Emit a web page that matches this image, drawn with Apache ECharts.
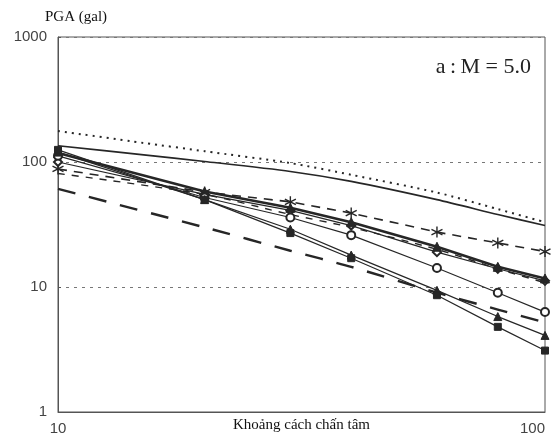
<!DOCTYPE html>
<html>
<head>
<meta charset="utf-8">
<script src="https://cdn.jsdelivr.net/npm/echarts@6/dist/echarts.min.js"></script>
<style>
  html, body { margin: 0; padding: 0; background: #fff; }
  #main { width: 552px; height: 440px; }
</style>
</head>
<body>
<div id="main"></div>
<script>
// distances (km) and PGA values (gal)
var distances = [10, 20, 30, 40, 60, 80, 100];
var distFine = [10, 15, 20, 30, 40, 60, 80, 100];

var dottedCurve = [177, 142, 122, 98, 79, 57, 42, 33];
var solidCurve = [135, 114, 101, 84, 70, 50, 38, 31];
var starValues = [88, 57.5, 48, 39, 27.5, 22.5, 19.2];
var dashValues = [81, 55, 38, 30, 20, 14, 10.8];
var diamondValues = [100, 55, 41, 31, 19, 14, 11.2];
var triHeavyValues = [118, 58, 43, 33, 21, 14.5, 11.7];
var circleValues = [112, 52, 36, 26, 14.2, 9, 6.3];
var longDashValues = [61, 30, 19.5, 14.5, 9, 6.6, 5.2];
var triValues = [120, 50, 29, 18, 9.4, 5.8, 4.1];
var squareValues = [125, 50, 27, 17, 8.6, 4.8, 3.1];

var yTicks = [1, 10, 100, 1000];

var INK = '#262626';
var asterisk = 'path://M0,-5L0,5M-4.33,-2.5L4.33,2.5M-4.33,2.5L4.33,-2.5';

function pairs(xs, ys) {
	var out = [];
	for (var i = 0; i < xs.length; i++) out.push([xs[i], ys[i]]);
	return out;
}

function mkLine(name, xs, ys, width, dash, symbol, size) {
	return {
		name: name,
		type: 'line',
		data: pairs(xs, ys),
		symbol: symbol || 'none',
		symbolSize: size || 7,
		showSymbol: !!symbol,
		smooth: symbol ? false : 0.25,
		clip: false,
		z: 3,
		lineStyle: { color: INK, width: width, type: dash || 'solid', cap: 'butt' },
		itemStyle: { color: INK, borderColor: INK, borderWidth: symbol === asterisk ? 1.4 : 1 },
		emphasis: { disabled: true }
	};
}

var mainChart = echarts.init(document.getElementById('main'));

var chartOpt = {
	animation: false,
	backgroundColor: '#fff',
	grid: {
		left: 58, right: 7, top: 37, bottom: 28,
		outerBoundsMode: 'none',
		containLabel: false,
		show: true, borderColor: '#555', borderWidth: 1
	},
	xAxis: {
		type: 'log',
		logBase: 10,
		min: 10,
		max: 100,
		name: 'Khoảng cách chấn tâm',
		nameLocation: 'middle',
		nameGap: 6,
		nameMoveOverlap: false,
		nameTextStyle: { fontFamily: 'Liberation Serif', fontSize: 15, color: '#111', verticalAlign: 'top' },
		axisLine: { lineStyle: { color: '#555' } },
		axisTick: { show: false },
		splitLine: { show: false },
		axisLabel: {
			margin: 9,
			fontFamily: 'Liberation Sans',
			fontSize: 15,
			color: '#444',
			alignMaxLabel: 'right'
		}
	},
	yAxis: {
		type: 'log',
		logBase: 10,
		min: 1,
		max: 1000,
		name: 'PGA (gal)',
		nameLocation: 'end',
		nameGap: 12,
		nameMoveOverlap: false,
		nameTextStyle: { fontFamily: 'Liberation Serif', fontSize: 15, color: '#111', align: 'left', padding: [0, 0, 0, -13] },
		axisLine: { lineStyle: { color: '#555' } },
		axisTick: { show: true, inside: true, length: 3, lineStyle: { color: '#555' } },
		splitLine: { show: true, lineStyle: { color: '#777', type: [3, 5], width: 1 } },
		axisLabel: {
			margin: 11,
			fontFamily: 'Liberation Sans',
			fontSize: 15,
			color: '#444',
			formatter: function (v) { return yTicks.indexOf(v) >= 0 ? String(v) : ''; }
		}
	},
	graphic: [{
		type: 'text',
		x: 531,
		y: 67,
		style: {
			text: 'a\u2009:\u2009M = 5.0',
			font: '22px "Liberation Serif"',
			fill: '#222',
			align: 'right',
			verticalAlign: 'middle'
		}
	}],
	series: [
		mkLine('dotted', distFine, dottedCurve, 2, [2, 5]),
		mkLine('solid', distFine, solidCurve, 1.6),
		mkLine('star', distances, starValues, 1.6, [9, 7], asterisk, 11),
		mkLine('dash', distances, dashValues, 1.4, [7, 7]),
		mkLine('diamond', distances, diamondValues, 1.2, 'solid', 'emptyDiamond', 8),
		mkLine('triHeavy', distances, triHeavyValues, 2.6, 'solid', 'triangle', 9),
		mkLine('circle', distances, circleValues, 1.2, 'solid', 'emptyCircle', 8),
		mkLine('longDash', distances, longDashValues, 2.4, [18, 14]),
		mkLine('tri', distances, triValues, 1.2, 'solid', 'triangle', 8),
		mkLine('square', distances, squareValues, 1.2, 'solid', 'rect', 7)
	]
};

mainChart.setOption(chartOpt);
</script>
</body>
</html>
